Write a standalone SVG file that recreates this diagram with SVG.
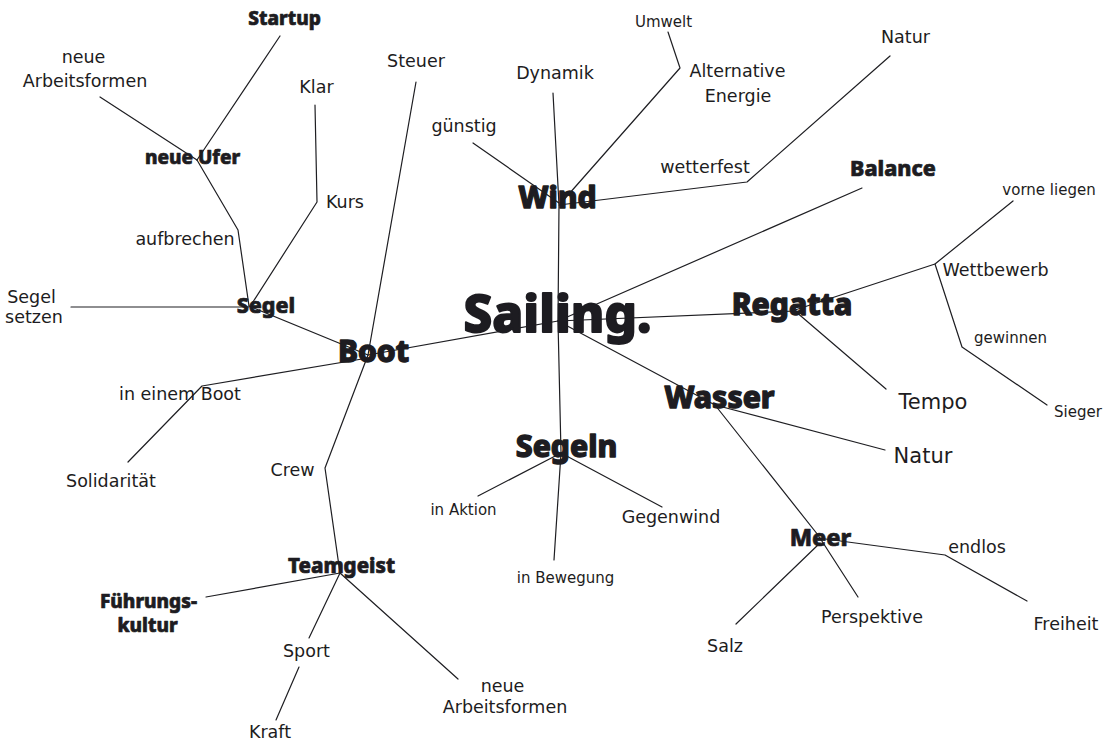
<svg xmlns="http://www.w3.org/2000/svg" width="1107" height="745" viewBox="0 0 1107 745">
<style>
.c{fill:none;stroke:#1e1e22;stroke-width:1.2;stroke-linejoin:round;stroke-linecap:round}
text{fill:#1d1c21;text-anchor:middle}
.r{font-family:"DejaVu Sans","Noto Sans",sans-serif;font-size:17.5px}
.s{font-family:"DejaVu Sans","Noto Sans",sans-serif;font-size:15px}
.l{font-family:"DejaVu Sans","Noto Sans",sans-serif;font-size:21px}
.b{font-family:"Noto Sans","Liberation Sans",sans-serif;font-weight:800;stroke:#1d1c21;stroke-width:0.7;stroke-linejoin:round}
.B{stroke-width:1.3}
</style>
<rect width="1107" height="745" fill="#fff"/>
<g id="connectors">
<polyline class="c" points="280,36 197,160"/>
<polyline class="c" points="100,97 197,160"/>
<polyline class="c" points="197,160 238,230 249,306"/>
<polyline class="c" points="315,105 317,202 251,305"/>
<polyline class="c" points="71,307 249,307"/>
<polyline class="c" points="249,306 368,355"/>
<polyline class="c" points="416,82 368,355 325,468 340,573"/>
<polyline class="c" points="368,355 558,321"/>
<polyline class="c" points="368,358 202,386 128,462"/>
<polyline class="c" points="553,93 559,205 558,321 561,453 554,560"/>
<polyline class="c" points="473,143 559,203"/>
<polyline class="c" points="668,32 680,68 561,203"/>
<polyline class="c" points="559,205 747,182 890,56"/>
<polyline class="c" points="862,188 558,321"/>
<polyline class="c" points="558,321 795,311"/>
<polyline class="c" points="795,310 935,264 1013,201"/>
<polyline class="c" points="935,264 962,347 1047,405"/>
<polyline class="c" points="795,311 886,389"/>
<polyline class="c" points="558,321 715,405"/>
<polyline class="c" points="715,405 885,450"/>
<polyline class="c" points="715,405 818,535 858,597"/>
<polyline class="c" points="818,538 945,555 1027,601"/>
<polyline class="c" points="820,543 736,624"/>
<polyline class="c" points="561,453 478,496"/>
<polyline class="c" points="561,453 662,507"/>
<polyline class="c" points="206,597 340,573"/>
<polyline class="c" points="340,573 309,638"/>
<polyline class="c" points="299,667 276,720"/>
<polyline class="c" points="340,573 458,679"/>
</g>
<g id="n-sailing"><text class="b B" x="557.5" y="332" font-size="51" style="stroke-width:1.8">Sailing.</text></g>
<g id="n-wind"><text class="b B" x="557.5" y="208" font-size="30">Wind</text></g>
<g id="n-boot"><text class="b B" x="373.5" y="362" font-size="30">Boot</text></g>
<g id="n-regatta"><text class="b B" x="792" y="315" font-size="30">Regatta</text></g>
<g id="n-wasser"><text class="b B" x="719.5" y="408" font-size="30">Wasser</text></g>
<g id="n-segeln"><text class="b B" x="566.5" y="457" font-size="30">Segeln</text></g>
<g id="n-balance"><text class="b" x="893" y="176" font-size="21.5">Balance</text></g>
<g id="n-segel"><text class="b" x="266" y="313" font-size="21.5">Segel</text></g>
<g id="n-neueufer"><text class="b" x="192.5" y="164" font-size="19">neue Ufer</text></g>
<g id="n-startup"><text class="b" x="284.5" y="25" font-size="19">Startup</text></g>
<g id="n-teamgeist"><text class="b" x="341.5" y="573" font-size="20.5">Teamgeist</text></g>
<g id="n-fuehrung"><text class="b" x="148.5" y="608" font-size="19">Führungs-</text><text class="b" x="147.5" y="632" font-size="19">kultur</text></g>
<g id="n-meer"><text class="b" x="820.5" y="546" font-size="23.5">Meer</text></g>
<g id="n-arbeit1"><text class="r" x="83.5" y="63">neue</text><text class="r" x="85" y="87">Arbeitsformen</text></g>
<g id="n-klar"><text class="r" x="316.5" y="93">Klar</text></g>
<g id="n-kurs"><text class="r" x="345" y="208">Kurs</text></g>
<g id="n-aufbrechen"><text class="r" x="185" y="245">aufbrechen</text></g>
<g id="n-steuer"><text class="r" x="416" y="67">Steuer</text></g>
<g id="n-segelsetzen"><text class="r" x="31.5" y="303">Segel</text><text class="r" x="34" y="323">setzen</text></g>
<g id="n-ineinemboot"><text class="r" x="180" y="400">in einem Boot</text></g>
<g id="n-solidaritaet"><text class="r" x="111" y="487">Solidarität</text></g>
<g id="n-crew"><text class="r" x="292.5" y="476">Crew</text></g>
<g id="n-guenstig"><text class="r" x="464" y="132">günstig</text></g>
<g id="n-dynamik"><text class="r" x="555" y="79">Dynamik</text></g>
<g id="n-umwelt"><text class="s" x="663.5" y="27" font-size="16">Umwelt</text></g>
<g id="n-alternative"><text class="r" x="737.5" y="77">Alternative</text><text class="r" x="738" y="102">Energie</text></g>
<g id="n-wetterfest"><text class="r" x="705" y="173">wetterfest</text></g>
<g id="n-natur1"><text class="r" x="905.5" y="43">Natur</text></g>
<g id="n-vorne"><text class="s" x="1049" y="195" font-size="15.7">vorne liegen</text></g>
<g id="n-wettbewerb"><text class="r" x="995.5" y="276">Wettbewerb</text></g>
<g id="n-gewinnen"><text class="s" x="1010.5" y="343">gewinnen</text></g>
<g id="n-sieger"><text class="s" x="1078" y="417">Sieger</text></g>
<g id="n-tempo"><text class="l" x="933" y="409">Tempo</text></g>
<g id="n-natur2"><text class="l" x="923" y="463">Natur</text></g>
<g id="n-inaktion"><text class="s" x="463.5" y="515">in Aktion</text></g>
<g id="n-gegenwind"><text class="r" x="671" y="523">Gegenwind</text></g>
<g id="n-inbewegung"><text class="s" x="565.5" y="583">in Bewegung</text></g>
<g id="n-endlos"><text class="r" x="977" y="553">endlos</text></g>
<g id="n-perspektive"><text class="r" x="872" y="623">Perspektive</text></g>
<g id="n-salz"><text class="r" x="725" y="652">Salz</text></g>
<g id="n-freiheit"><text class="r" x="1066" y="630">Freiheit</text></g>
<g id="n-sport"><text class="r" x="306.5" y="657">Sport</text></g>
<g id="n-kraft"><text class="r" x="270" y="738">Kraft</text></g>
<g id="n-arbeit2"><text class="r" x="502.5" y="692">neue</text><text class="r" x="505" y="713">Arbeitsformen</text></g>
</svg>
